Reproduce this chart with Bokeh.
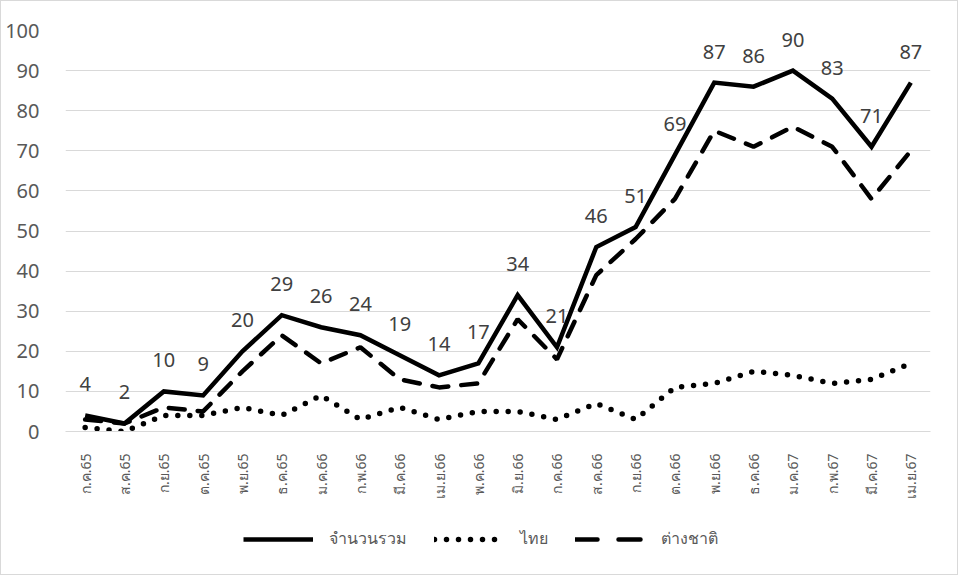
from bokeh.plotting import figure
from bokeh.layouts import column
from bokeh.models import Range1d, FactorRange, FixedTicker, Legend, LegendItem, ColumnDataSource
from bokeh.core.properties import value
from bokeh.embed import file_html
from bokeh.resources import INLINE
import math

months = ["ก.ค.65", "ส.ค.65", "ก.ย.65", "ต.ค.65", "พ.ย.65", "ธ.ค.65", "ม.ค.66", "ก.พ.66",
          "มี.ค.66", "เม.ย.66", "พ.ค.66", "มิ.ย.66", "ก.ค.66", "ส.ค.66", "ก.ย.66", "ต.ค.66",
          "พ.ย.66", "ธ.ค.66", "ม.ค.67", "ก.พ.67", "มี.ค.67", "เม.ย.67"]
total = [4, 2, 10, 9, 20, 29, 26, 24, 19, 14, 17, 34, 21, 46, 51, 69, 87, 86, 90, 83, 71, 87]
thai = [1, 0, 4, 4, 6, 4, 9, 3, 6, 3, 5, 5, 3, 7, 3, 11, 12, 15, 14, 12, 13, 17]
foreign = [3, 2, 6, 5, 15, 24, 17, 21, 13, 11, 12, 28, 18, 39, 48, 58, 75, 71, 76, 71, 58, 70]
series_names = ["จำนวนรวม", "ไทย", "ต่างชาติ"]
y_ticks = [0, 10, 20, 30, 40, 50, 60, 70, 80, 90, 100]

FONT = "Noto Sans"
GRAY = "#595959"
BORDER = "1px solid #d9d9d9"

src = ColumnDataSource(dict(m=months, total=total, thai=thai, foreign=foreign,
                            lbl=[str(v) for v in total]))

p = figure(width=958, height=510, output_backend="svg", toolbar_location=None,
           x_range=FactorRange(factors=months, range_padding=0),
           y_range=Range1d(0, 100),
           min_border_left=64, min_border_right=29, min_border_top=29, min_border_bottom=80)
p.styles = {"border-left": BORDER, "border-right": BORDER, "border-top": BORDER}
p.outline_line_color = None
p.background_fill_color = "white"
p.border_fill_color = "white"

p.yaxis.ticker = FixedTicker(ticks=y_ticks)
p.ygrid.ticker = FixedTicker(ticks=y_ticks)
p.ygrid.grid_line_color = "#d9d9d9"
p.ygrid.grid_line_width = 1
p.xgrid.grid_line_color = None
p.yaxis.axis_line_color = None
p.yaxis.major_tick_line_color = None
p.yaxis.minor_tick_line_color = None
p.yaxis.major_label_text_font = FONT
p.yaxis.major_label_text_font_size = "20px"
p.yaxis.major_label_text_color = GRAY
p.yaxis.major_label_standoff = 20

p.xaxis.axis_line_color = "#d9d9d9"
p.xaxis.major_tick_line_color = None
p.xaxis.minor_tick_line_color = None
p.xaxis.major_label_orientation = math.pi / 2
p.xaxis.major_label_text_font = FONT
p.xaxis.major_label_text_font_size = "14px"
p.xaxis.major_label_text_color = GRAY
p.xaxis.major_label_standoff = 16

p.line("m", "total", source=src, line_color="black", line_width=4.5, line_join="miter")
p.line("m", "thai", source=src, line_color="black", line_width=5.5, line_dash="0 12",
       line_cap="round", line_join="round")
p.line("m", "foreign", source=src, line_color="black", line_width=4.5,
       line_dash="16 13", line_cap="round")

p.text("m", "total", text="lbl", source=src, text_font=value(FONT), text_font_size="20px",
       text_color="#404040", text_align="center", text_baseline="middle", y_offset=-31)

# legend panel (its sample lines lie outside the visible range; only the legend glyphs show)
lg = figure(width=958, height=65, output_backend="svg", toolbar_location=None,
            x_range=Range1d(0, 1), y_range=Range1d(0, 1),
            min_border_left=0, min_border_right=0, min_border_top=0, min_border_bottom=0)
lg.styles = {"border-left": BORDER, "border-right": BORDER, "border-bottom": BORDER}
lg.axis.visible = False
lg.grid.grid_line_color = None
lg.outline_line_color = None
hidden = [-5, -4]
l1 = lg.line(hidden, hidden, line_color="black", line_width=4.5)
l2 = lg.line(hidden, hidden, line_color="black", line_width=5.5, line_dash="0 12", line_cap="round")
l3 = lg.line(hidden, hidden, line_color="black", line_width=4.5, line_dash="22 21", line_cap="round")
legend = Legend(items=[LegendItem(label=series_names[0], renderers=[l1]),
                       LegendItem(label=series_names[1], renderers=[l2]),
                       LegendItem(label=series_names[2], renderers=[l3])],
                orientation="horizontal", location=(178, 24),
                glyph_width=70, glyph_height=20, label_height=20, label_standoff=16, spacing=27,
                label_text_font=FONT, label_text_font_size="16px", label_text_color=GRAY,
                background_fill_alpha=0, border_line_color=None, padding=0, margin=0)
lg.add_layout(legend, "center")

layout = column(p, lg, spacing=0)
open("out.html", "w").write(file_html(layout, INLINE))
